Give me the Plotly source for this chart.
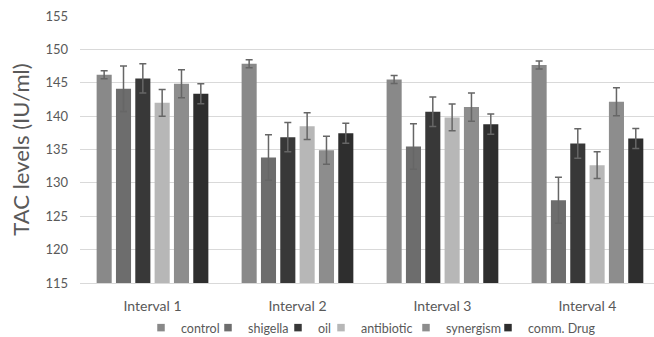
import plotly.graph_objects as go

categories = ["Interval 1", "Interval 2", "Interval 3", "Interval 4"]
series_names = ["control", "shigella", "oil", "antibiotic", "synergism", "comm. Drug"]

control = [146.2, 147.85, 145.5, 147.65]
shigella = [144.1, 133.8, 135.45, 127.4]
oil = [145.65, 136.85, 140.65, 135.9]
antibiotic = [142.0, 138.5, 139.8, 132.65]
synergism = [144.85, 134.9, 141.35, 142.15]
comm_drug = [143.35, 137.45, 138.8, 136.65]

control_err = [0.6, 0.6, 0.6, 0.6]
shigella_err = [3.4, 3.4, 3.4, 3.45]
oil_err = [2.2, 2.2, 2.2, 2.2]
antibiotic_err = [2.0, 2.0, 2.0, 2.0]
synergism_err = [2.1, 2.1, 2.1, 2.1]
comm_drug_err = [1.5, 1.5, 1.5, 1.5]

y_ticks = [115, 120, 125, 130, 135, 140, 145, 150, 155]

colors = ["#898989", "#6d6d6d", "#383838", "#b7b7b7", "#8d8d8d", "#2e2e2e"]
values = [control, shigella, oil, antibiotic, synergism, comm_drug]
errors = [control_err, shigella_err, oil_err, antibiotic_err, synergism_err, comm_drug_err]

legend_px = [141, 208, 278, 321, 406, 488]   # page pixel x of each legend entry
PLOT_L = 80
PLOT_W = 574
PLOT_T = 16
PLOT_H = 267
FIG_H = 350

fig = go.Figure()
for i, (name, vals, errs, col) in enumerate(zip(series_names, values, errors, colors)):
    lg = "legend" if i == 0 else f"legend{i+1}"
    fig.add_trace(go.Bar(
        x=categories, y=vals, name=name, marker=dict(color=col, line=dict(width=0)),
        error_y=dict(type="data", array=errs, visible=True, color="#666666", thickness=1.5, width=3.5),
        showlegend=False,
    ))
    # legend key (small square, like the original)
    fig.add_trace(go.Scatter(
        x=[None], y=[None], mode="markers", name=name, legend=lg,
        marker=dict(symbol="square", size=7.5, color=col),
        hoverinfo="skip",
    ))

font_family = "Lato, 'Open Sans', sans-serif"
legend_common = dict(orientation="h", yanchor="middle", y=-(328 - (PLOT_T + PLOT_H)) / PLOT_H,
                     xanchor="left",
                     font=dict(family=font_family, size=12.5, color="#595959"),
                     bgcolor="rgba(0,0,0,0)", itemwidth=30, tracegroupgap=0)
legends = {}
for i, px in enumerate(legend_px):
    key = "legend" if i == 0 else f"legend{i+1}"
    legends[key] = dict(legend_common, x=(px - PLOT_L) / PLOT_W)

fig.update_layout(
    width=654, height=FIG_H,
    margin=dict(l=PLOT_L, r=0, t=PLOT_T, b=FIG_H - PLOT_T - PLOT_H),
    paper_bgcolor="white", plot_bgcolor="white",
    barmode="group", bargap=0.2, bargroupgap=0.22,
    font=dict(family=font_family, color="#595959"),
    showlegend=True,
    xaxis=dict(range=[-0.5, 3.459], showgrid=False, showline=True, linecolor="#d9d9d9",
               linewidth=1, tickfont=dict(size=14, color="#595959"), ticks="",
               ticklabelstandoff=10, automargin=False),
    yaxis=dict(range=[115, 155], tickvals=y_ticks, showgrid=True, gridcolor="#d9d9d9",
               gridwidth=1, zeroline=False, showline=False, automargin=False,
               tickfont=dict(size=13, color="#595959"), ticklabelstandoff=11,
               title=dict(text="TAC levels (IU/ml)", font=dict(size=22, color="#595959"), standoff=9)),
    **legends,
)

fig.write_html("out.html", config={"displayModeBar": False},
               post_script="document.body.style.margin='0px';document.body.style.overflow='hidden';")
